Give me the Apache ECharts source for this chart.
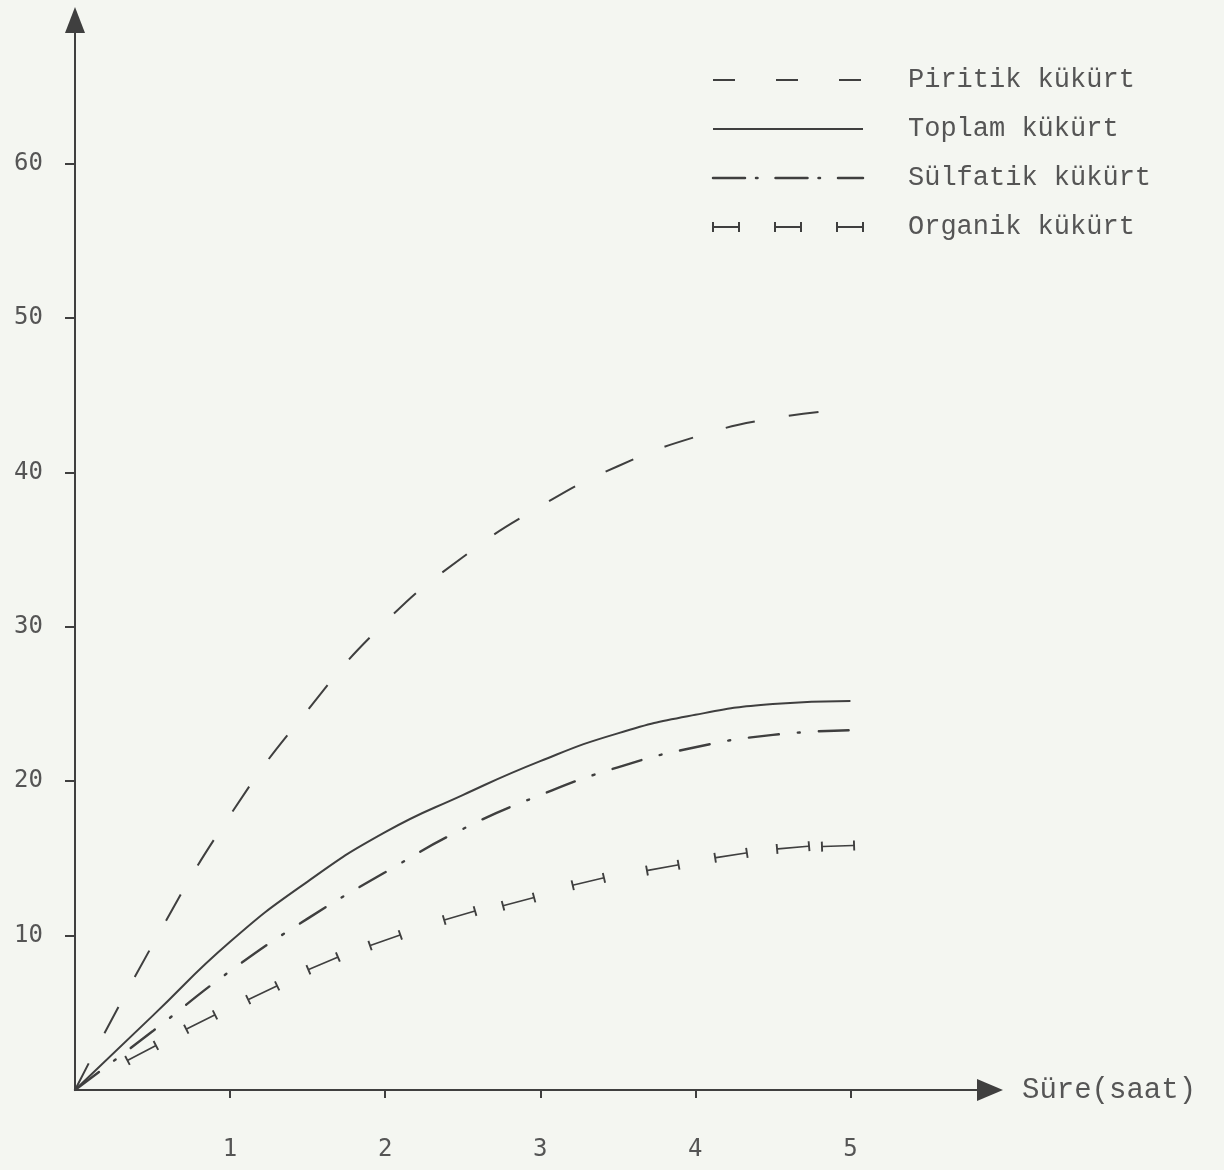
<!DOCTYPE html>
<html>
<head>
<meta charset="utf-8">
<script src="https://cdn.jsdelivr.net/npm/echarts@6/dist/echarts.min.js"></script>
<style>
html,body{margin:0;padding:0;background:#f4f6f1;}
#c{width:1224px;height:1170px;}
</style>
</head>
<body>
<div id="c"></div>
<script>
// ---- data ----
const xTicks = [1, 2, 3, 4, 5];
const yTicks = [10, 20, 30, 40, 50, 60];
const time = [0, 0.5, 1, 1.5, 2, 2.5, 3, 3.5, 4, 4.5, 5];
const piritik = [0, 9.4, 17.8, 24.6, 30.3, 34.5, 37.8, 40.4, 42.3, 43.5, 44.1];
const toplam = [0, 4.8, 9.6, 13.5, 16.7, 19.1, 21.3, 23.1, 24.3, 25.0, 25.2];
const sulfatik = [0, 3.8, 7.7, 11.1, 14.1, 16.9, 19.1, 20.9, 22.2, 23.0, 23.3];
const organikTime = [0.43, 0.81, 1.21, 1.60, 2.0, 2.48, 2.86, 3.31, 3.79, 4.23, 4.63, 4.92];
const organik = [2.4, 4.4, 6.3, 8.2, 9.7, 11.3, 12.2, 13.5, 14.4, 15.2, 15.7, 15.8];
const seriesNames = ['Piritik kükürt', 'Toplam kükürt', 'Sülfatik kükürt', 'Organik kükürt'];
const xName = 'Süre(saat)';

const INK = '#3f3f3f';
const TXT = '#555555';
const ibeam = 'path://M0,0 L2,0 L2,4.2 L34,4.2 L34,0 L36,0 L36,10 L34,10 L34,5.8 L2,5.8 L2,10 L0,10 Z';

const pair = (xs, ys) => xs.map((x, i) => [x, ys[i]]);

const chart = echarts.init(document.getElementById('c'), null, {renderer: 'canvas'});

function legendGraphics() {
  const x0 = 713, x1 = 863, tx = 908;
  const rows = [80, 129, 178, 227];
  const g = [];
  const ls = {stroke: INK, lineWidth: 2};
  g.push({type: 'line', shape: {x1: x0, y1: rows[0], x2: x1, y2: rows[0]}, style: Object.assign({lineDash: [22, 41]}, ls)});
  g.push({type: 'line', shape: {x1: x0, y1: rows[1], x2: x1, y2: rows[1]}, style: Object.assign({}, ls)});
  g.push({type: 'line', shape: {x1: x0, y1: rows[2], x2: x1, y2: rows[2]}, style: Object.assign({lineDash: [32, 11, 1.5, 18], lineCap: 'round'}, ls, {lineWidth: 2.5})});
  [[713, 739], [775, 801], [837, 863]].forEach(([a, b]) => {
    g.push({type: 'line', shape: {x1: a, y1: rows[3], x2: b, y2: rows[3]}, style: Object.assign({}, ls)});
    g.push({type: 'line', shape: {x1: a, y1: rows[3] - 5, x2: a, y2: rows[3] + 5}, style: Object.assign({}, ls)});
    g.push({type: 'line', shape: {x1: b, y1: rows[3] - 5, x2: b, y2: rows[3] + 5}, style: Object.assign({}, ls)});
  });
  seriesNames.forEach((n, i) => {
    g.push({type: 'text', x: tx, y: rows[i], style: {text: n, fill: TXT, font: '27px "Liberation Mono"', verticalAlign: 'middle', align: 'left'}});
  });
  return g;
}

const option = {
  backgroundColor: '#f4f6f1',
  animation: false,
  grid: {left: 75, right: 234, top: 20, bottom: 80, containLabel: false},
  xAxis: {
    type: 'value', min: 0, max: 5.9,
    name: xName, nameLocation: 'end', nameGap: 32,
    nameTextStyle: {color: TXT, fontSize: 29, fontFamily: 'Liberation Mono', verticalAlign: 'middle'},
    axisLine: {show: true, onZero: false, symbol: ['none', 'triangle'], symbolSize: [22, 26], lineStyle: {color: INK, width: 2}},
    axisTick: {show: true, inside: false, length: 8, customValues: xTicks, lineStyle: {color: INK, width: 2}},
    axisLabel: {show: true, customValues: xTicks, margin: 48, color: TXT, fontSize: 24, fontFamily: 'DejaVu Sans Mono'},
    splitLine: {show: false}
  },
  yAxis: {
    type: 'value', min: 0, max: 69.3,
    axisLine: {show: true, onZero: false, symbol: ['none', 'triangle'], symbolSize: [20, 26], lineStyle: {color: INK, width: 2}},
    axisTick: {show: true, inside: false, length: 10, customValues: yTicks, lineStyle: {color: INK, width: 2}},
    axisLabel: {show: true, customValues: yTicks, margin: 32, color: TXT, fontSize: 24, fontFamily: 'DejaVu Sans Mono'},
    splitLine: {show: false}
  },
  series: [
    {name: seriesNames[0], type: 'line', data: pair(time, piritik), smooth: 0.5, showSymbol: false,
     lineStyle: {color: INK, width: 2, type: [30, 34]}},
    {name: seriesNames[1], type: 'line', data: pair(time, toplam), smooth: 0.5, showSymbol: false,
     lineStyle: {color: INK, width: 2}},
    {name: seriesNames[2], type: 'line', data: pair(time, sulfatik), smooth: 0.5, showSymbol: false,
     lineStyle: {color: INK, width: 2.4, type: [30, 19, 2, 19], cap: 'round'}},
    {name: seriesNames[3], type: 'scatter', data: pair(organikTime, organik), symbol: ibeam, symbolSize: [34, 10],
     symbolKeepAspect: false, itemStyle: {color: INK, opacity: 1}}
  ],
  graphic: legendGraphics()
};
chart.setOption(option);

// orient the organik I-beam markers along the curve in pixel space
const pts = pair(organikTime, organik);
const px = pts.map(p => chart.convertToPixel({gridIndex: 0}, p));
const rotated = pts.map((p, i) => {
  const a = px[Math.max(0, i - 1)], b = px[Math.min(px.length - 1, i + 1)];
  const deg = Math.atan2(-(b[1] - a[1]), b[0] - a[0]) * 180 / Math.PI;
  return {value: p, symbolRotate: deg};
});
chart.setOption({series: [{}, {}, {}, {data: rotated}]});
</script>
</body>
</html>
